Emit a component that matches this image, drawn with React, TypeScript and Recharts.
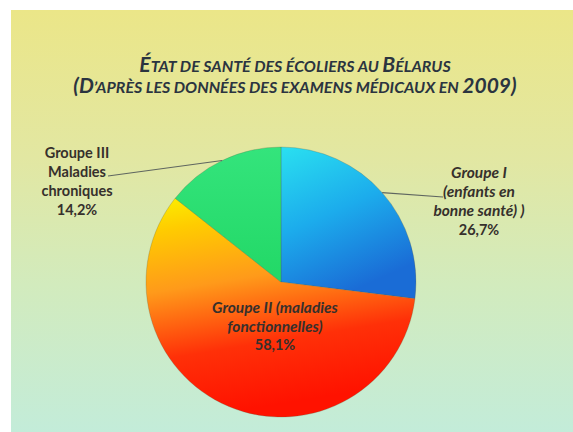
import React from 'react';
import { PieChart, Pie, Cell } from 'recharts';

const categories = ['Groupe I', 'Groupe II', 'Groupe III'];
const shares = [26.7, 58.1, 14.2];
const shareLabels = ['26,7%', '58,1%', '14,2%'];
const nameLines = [
  ['Groupe I', '(enfants en', 'bonne santé) )'],
  ['Groupe II (maladies', 'fonctionnelles)'],
  ['Groupe III', 'Maladies', 'chroniques'],
];
const italicNames = [true, true, false];

// title pieces: [text, big capital?]
const titleLine1: [string, boolean][] = [
  ['É', true],
  ['TAT DE SANTÉ DES ÉCOLIERS AU ', false],
  ['B', true],
  ['ÉLARUS', false],
];
const titleLine2: [string, boolean][] = [
  ['(D', true],
  ['’APRÈS LES DONNÉES DES EXAMENS MÉDICAUX EN ', false],
  ['2009)', true],
];

const data = categories.map((name, i) => ({ name, value: shares[i] }));

const FONT = 'Lato, "Open Sans", sans-serif';
const TEXT = '#36302c';
const RAD = Math.PI / 180;

// label placement per slice, offsets from the pie centre
const labelSpots = [
  { x: 198, y: -104, step: 19, leader: { x: 162, y: -85 } },
  { x: -6, y: 31, step: 18.5, leader: null },
  { x: -204, y: -124, step: 19, leader: { x: -173, y: -106 } },
];

const renderLabel = (props: any) => {
  const { cx, cy, midAngle, outerRadius, index } = props;
  const spot = labelSpots[index];
  const lines = [...nameLines[index], shareLabels[index]];
  const ex = cx + outerRadius * Math.cos(-midAngle * RAD);
  const ey = cy + outerRadius * Math.sin(-midAngle * RAD);
  return (
    <g key={`lbl-${index}`}>
      {spot.leader && (
        <line x1={ex} y1={ey} x2={cx + spot.leader.x} y2={cy + spot.leader.y} stroke="#5f6660" strokeWidth={1.2} />
      )}
      {lines.map((t, j) => {
        const it = italicNames[index] && j < lines.length - 1;
        return (
          <text
            key={j}
            x={cx + spot.x}
            y={cy + spot.y + j * spot.step}
            textAnchor="middle"
            fontFamily={FONT}
            fontSize={it ? 15.5 : 14.5}
            fontWeight={700}
            fontStyle={it ? 'italic' : 'normal'}
            fill={TEXT}
          >
            {t}
          </text>
        );
      })}
    </g>
  );
};

const fills = ['url(#gBlue)', 'url(#gOrange)', 'url(#gGreen)'];

export default function App() {
  return (
    <div style={{ position: 'absolute', left: 0, top: 0, width: 573, height: 432, background: '#ffffff' }}>
      <div
        style={{
          position: 'absolute',
          left: 11,
          top: 10,
          width: 562,
          height: 422,
          background: 'linear-gradient(to bottom, #ebe688 0%, #e2e7a2 35%, #d2ebbd 65%, #c3ecd9 100%)',
        }}
      />
      <div style={{ position: 'absolute', left: 0, top: 0 }}>
        <PieChart width={573} height={432}>
          <defs>
            <linearGradient id="gBlue" x1="0" y1="0" x2="0.4" y2="1">
              <stop offset="0%" stopColor="#2ae0f0" />
              <stop offset="50%" stopColor="#1cacec" />
              <stop offset="100%" stopColor="#1a6cd6" />
            </linearGradient>
            <linearGradient id="gOrange" x1="0" y1="0" x2="0.2" y2="1">
              <stop offset="0%" stopColor="#fbf000" />
              <stop offset="15%" stopColor="#ffcc00" />
              <stop offset="42%" stopColor="#ff9a1a" />
              <stop offset="72%" stopColor="#ff3008" />
              <stop offset="100%" stopColor="#ff1200" />
            </linearGradient>
            <linearGradient id="gGreen" x1="0" y1="0" x2="0" y2="1">
              <stop offset="0%" stopColor="#34e47c" />
              <stop offset="100%" stopColor="#22d866" />
            </linearGradient>
          </defs>
          <text
            x={295}
            y={72}
            textAnchor="middle"
            fontFamily={FONT}
            fontWeight={700}
            fontStyle="italic"
            fill="#2b3440"
          >
            {titleLine1.map(([t, big], i) => (
              <tspan key={`a${i}`} fontSize={big ? 21 : 16}>{t}</tspan>
            ))}
            <tspan x={295} dy={21} fontSize={0}>{' '}</tspan>
            {titleLine2.map(([t, big], i) => (
              <tspan key={`b${i}`} fontSize={big ? 21 : 16}>{t}</tspan>
            ))}
          </text>
          <Pie
            data={data}
            dataKey="value"
            nameKey="name"
            cx={276}
            cy={277}
            outerRadius={135}
            startAngle={90}
            endAngle={-270}
            stroke="rgba(90,90,60,0.25)"
            strokeWidth={1}
            label={renderLabel}
            labelLine={false}
            isAnimationActive={false}
          >
            {data.map((d, i) => (
              <Cell key={d.name} fill={fills[i]} />
            ))}
          </Pie>
        </PieChart>
      </div>
    </div>
  );
}
